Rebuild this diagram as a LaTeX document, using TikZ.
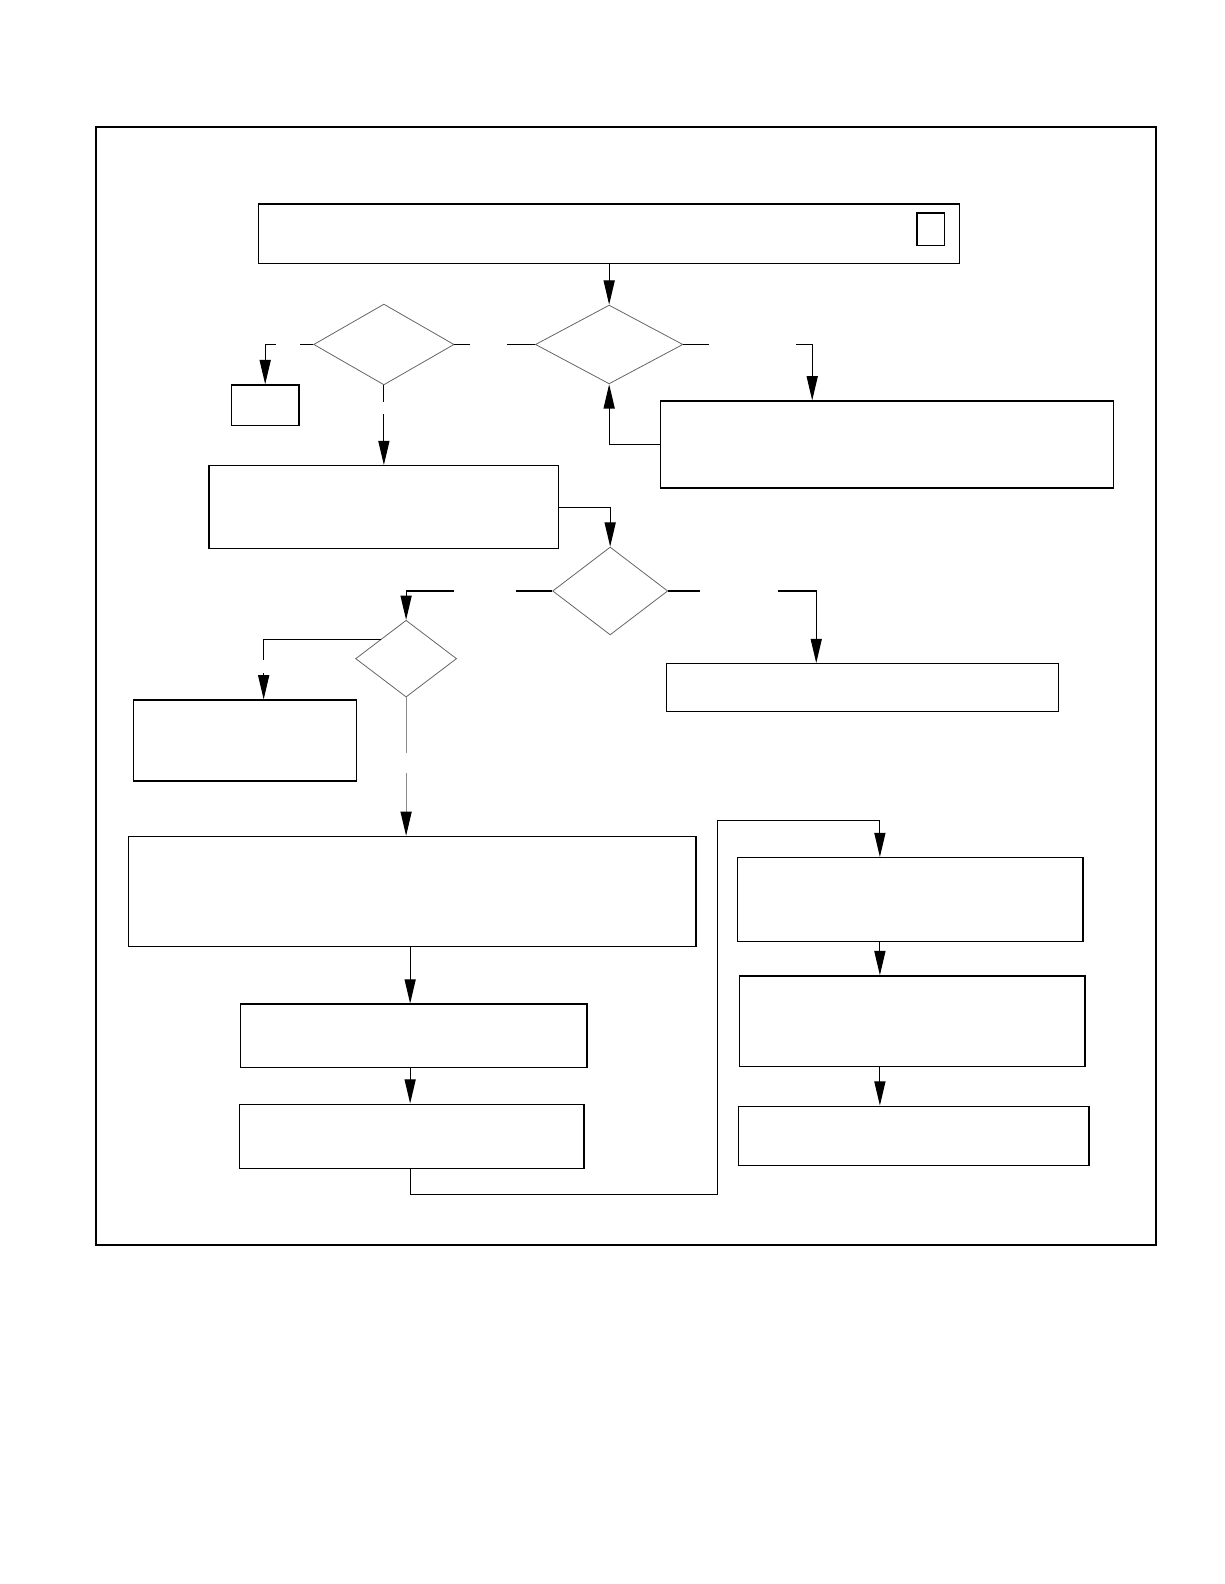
\documentclass[tikz,border=0pt]{standalone}
\usepackage{tikz}
\usetikzlibrary{shapes.geometric,arrows.meta}
\tikzstyle{procbox} = [draw=black, line width=0.65pt, rectangle, inner sep=0pt]
\tikzstyle{decision} = [draw=black!60, line width=0.4pt, diamond, inner sep=0pt]
\tikzstyle{link} = [draw=black, line width=0.55pt]
\tikzstyle{flow} = [link, -{Triangle[length=12pt,width=5.5pt,color=black]}]
\begin{document}
\begin{tikzpicture}[x=0.5pt, y=-0.5pt]
                \useasboundingbox (0,0) rectangle (1212,1568);
                \node [draw=black, line width=1pt, minimum width=524.5pt, minimum height=553pt] (frame) at (619.5,679) {};
                % upper part
                \node [procbox, minimum width=347pt, minimum height=29.5pt] (start) at (603,231.5) {};
                \node [procbox, line width=0.9pt, minimum width=13.5pt, minimum height=16pt] (tag) at (921.5,227) {};
                \node [decision, minimum width=73pt, minimum height=39pt] (ask1) at (603,341) {};
                \node [decision, minimum width=69.5pt, minimum height=40pt] (ask0) at (380,341) {};
                \node [procbox, minimum width=33.5pt, minimum height=20pt] (stop) at (262.5,401) {};
                \node [procbox, minimum width=173pt, minimum height=41pt] (check) at (380,502) {};
                \node [procbox, minimum width=224pt, minimum height=43pt] (retry) at (878,440) {};
                % middle part
                \node [decision, minimum width=57pt, minimum height=43.5pt] (ask2) at (604,585) {};
                \node [decision, minimum width=50pt, minimum height=38pt] (ask3) at (402,652) {};
                \node [procbox, minimum width=110.5pt, minimum height=40pt] (note) at (242.5,733) {};
                \node [procbox, minimum width=194pt, minimum height=23.5pt] (done) at (854,680.5) {};
                % lower part
                \node [procbox, minimum width=281pt, minimum height=54.5pt] (stepA) at (408,882.5) {};
                \node [procbox, minimum width=171.5pt, minimum height=31.5pt] (stepB) at (409.5,1025.5) {};
                \node [procbox, minimum width=170.5pt, minimum height=32pt] (stepC) at (407.5,1125) {};
                \node [procbox, minimum width=171pt, minimum height=41.5pt] (stepD) at (901,890.5) {};
                \node [procbox, minimum width=171pt, minimum height=45pt] (stepE) at (903,1011) {};
                \node [procbox, minimum width=173.5pt, minimum height=29.5pt] (stepF) at (904.5,1124.5) {};
                % gaps where the branch labels stood
                \coordinate (g1a) at (502,341); \coordinate (g1b) at (465,341);
                \coordinate (g2a) at (297,341); \coordinate (g2b) at (273,341);
                \coordinate (g3a) at (380,398); \coordinate (g3b) at (380,410);
                \coordinate (g4a) at (702,341); \coordinate (g4b) at (788,341); \coordinate (g4c) at (804,341);
                \coordinate (g5a) at (511,585); \coordinate (g5b) at (449,585);
                \coordinate (g6a) at (261,653); \coordinate (g6b) at (261,666);
                \coordinate (g7a) at (402,745); \coordinate (g7b) at (402,765);
                \coordinate (g8a) at (693,585); \coordinate (g8b) at (770,585); \coordinate (g8c) at (808,585);
                \coordinate (jA) at (710,1182); \coordinate (jB) at (871,812);
                % connectors
                \draw [flow] (start.south) -- (ask1.north);
                \draw [link] (ask1.west) -- (g1a);
                \draw [link] (g1b) -- (ask0.east);
                \draw [link] (ask0.west) -- (g2a);
                \draw [flow] (g2b) -| (stop.north);
                \draw [link] (ask0.south) -- (g3a);
                \draw [flow] (g3b) -- (check.north);
                \draw [link] (ask1.east) -- (g4a);
                \draw [flow] (g4b) -- (g4c) -- (g4c |- retry.north);
                \draw [flow] (retry.west) -| (ask1.south);
                \draw [flow] (check.east) -| (ask2.north);
                \draw [link] (ask2.west) -- (g5a);
                \draw [flow] (g5b) -| (ask3.north);
                \draw [link] (ask3.north west) -| (g6a);
                \draw [flow] (g6b) -- (g6b |- note.north);
                \draw [link, draw=black!45] (ask3.south) -- (g7a);
                \draw [flow, draw=black!45] (g7b) -- (g7b |- stepA.north);
                \draw [link] (ask2.east) -- (g8a);
                \draw [flow] (g8b) -- (g8c) -- (g8c |- done.north);
                \draw [flow] (stepA.south -| 406,0) -- (stepB.north -| 406,0);
                \draw [flow] (stepB.south -| 406,0) -- (stepC.north -| 406,0);
                \draw [flow] (stepC.south -| 406,0) |- (jA) |- (jB) -- (jB |- stepD.north);
                \draw [flow] (jB |- stepD.south) -- (jB |- stepE.north);
                \draw [flow] (jB |- stepE.south) -- (jB |- stepF.north);
            \end{tikzpicture}
\end{document}
